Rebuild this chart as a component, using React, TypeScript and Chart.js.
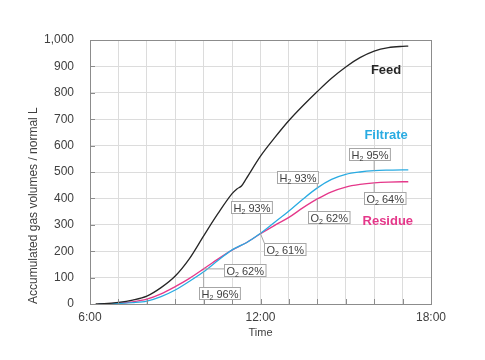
import React, { useEffect, useRef } from 'react';
import { Chart, registerables } from 'chart.js';

Chart.register(...registerables);

// ---- data (time in hours, volumes in normal L) ----
const feedTime = [6.2, 6.5, 7, 7.5, 8, 8.5, 9, 9.5, 10, 10.5, 11, 11.17, 11.33, 11.5, 12, 12.5, 13, 13.5, 14, 14.5, 15, 15.5, 16, 16.5, 17, 17.2];
const feedVol = [0, 1, 6, 15, 30, 62, 106, 172, 258, 342, 418, 436, 447, 475, 560, 630, 695, 752, 805, 855, 898, 933, 958, 971, 976, 977];

const filtrateTime = [6.3, 7, 7.5, 8, 8.5, 9, 9.5, 10, 10.5, 11, 11.25, 11.5, 12, 12.5, 13, 13.5, 14, 14.5, 15, 15.5, 16, 16.5, 17, 17.2];
const filtrateVol = [0, 2, 5, 11, 28, 53, 86, 122, 165, 205, 219, 232, 268, 310, 352, 398, 440, 472, 491, 500, 505, 507, 508, 508];

const residueTime = [6.3, 7, 7.5, 8, 8.5, 9, 9.5, 10, 10.5, 11, 11.5, 12, 12.5, 13, 13.5, 14, 14.5, 15, 15.5, 16, 16.5, 17, 17.2];
const residueVol = [0, 3, 8, 18, 38, 66, 97, 133, 170, 204, 232, 266, 298, 328, 365, 398, 425, 443, 453, 459, 462, 463, 463];

const xTickHours = [6, 12, 18];
const seriesNames = ['Feed', 'Filtrate', 'Residue'];

// callout annotations: series index, time, gas letter, percentage
const calloutSeries = [1, 2, 1, 2, 1, 2, 1, 2];
const calloutTime = [10, 10, 12, 12, 14, 14, 16, 16];
const calloutGas = ['H', 'O', 'H', 'O', 'H', 'O', 'H', 'O'];
const calloutPct = [96, 62, 93, 61, 93, 62, 95, 64];

// ---- styling / placement (pixels) ----
const colors = ['#262626', '#29abe2', '#e5388a'];
const calloutBoxOffset = [
  [-5, 15], [20, -5], [-30, -32], [3, 9], [-40, -17], [-9, 12], [-25, -23], [-10, 9],
];
const seriesLabelPos = [
  [16.42, 886], [16.42, 640], [16.48, 311],
];

const FONT = 'Arial, "Liberation Sans", Helvetica, sans-serif';

const overlayPlugin = {
  id: 'overlay',
  afterDatasetsDraw(chart: any) {
    const { ctx, chartArea, scales } = chart;
    const xs = scales.x;
    const ys = scales.y;
    ctx.save();
    // plot border
    ctx.strokeStyle = '#8c8c8c';
    ctx.lineWidth = 1;
    ctx.strokeRect(
      Math.round(chartArea.left) + 0.5,
      Math.round(chartArea.top) + 0.5,
      Math.round(chartArea.right - chartArea.left),
      Math.round(chartArea.bottom - chartArea.top)
    );
    // inner tick marks
    ctx.beginPath();
    for (let h = 7; h < 18; h++) {
      const px = Math.round(xs.getPixelForValue(h)) + 0.5;
      ctx.moveTo(px, chartArea.bottom);
      ctx.lineTo(px, chartArea.bottom - 5);
    }
    for (let v = 100; v < 1000; v += 100) {
      const py = Math.round(ys.getPixelForValue(v)) + 0.5;
      ctx.moveTo(chartArea.left, py);
      ctx.lineTo(chartArea.left + 5, py);
    }
    ctx.stroke();

    // series labels
    ctx.font = `bold 13px ${FONT}`;
    ctx.textAlign = 'center';
    ctx.textBaseline = 'middle';
    seriesNames.forEach((name, i) => {
      ctx.fillStyle = colors[i];
      ctx.fillText(name, xs.getPixelForValue(seriesLabelPos[i][0]), ys.getPixelForValue(seriesLabelPos[i][1]));
    });

    // callouts
    const mainFont = `11px ${FONT}`;
    const subFont = `7px ${FONT}`;
    calloutSeries.forEach((si, k) => {
      const meta = chart.getDatasetMeta(si);
      const times = si === 1 ? filtrateTime : residueTime;
      const idx = times.indexOf(calloutTime[k]);
      const el = meta.data[idx];
      const ax = el.x;
      const ay = el.y;
      ctx.font = mainFont;
      const wG = ctx.measureText(calloutGas[k]).width;
      const rest = ` ${calloutPct[k]}%`;
      const wR = ctx.measureText(rest).width;
      ctx.font = subFont;
      const wS = ctx.measureText('2').width;
      const w = wG + wS + wR + 4;
      const hgt = 12;
      const bx = Math.round(ax + calloutBoxOffset[k][0]) + 0.5;
      const by = Math.round(ay + calloutBoxOffset[k][1]) + 0.5;
      const ex = Math.min(Math.max(ax, bx), bx + w);
      const ey = Math.min(Math.max(ay, by), by + hgt);
      ctx.strokeStyle = '#a6a6a6';
      ctx.lineWidth = 1;
      ctx.beginPath();
      ctx.moveTo(ax, ay);
      ctx.lineTo(ex, ey);
      ctx.stroke();
      ctx.fillStyle = '#ffffff';
      ctx.fillRect(bx, by, w, hgt);
      ctx.strokeRect(bx, by, w, hgt);
      ctx.fillStyle = '#404040';
      ctx.textAlign = 'left';
      ctx.textBaseline = 'alphabetic';
      const base = by + 10;
      ctx.font = mainFont;
      ctx.fillText(calloutGas[k], bx + 2, base);
      ctx.font = subFont;
      ctx.fillText('2', bx + 2 + wG, base + 2);
      ctx.font = mainFont;
      ctx.fillText(rest, bx + 2 + wG + wS, base);
    });
    ctx.restore();
  },
};

function toPoints(t: number[], v: number[]) {
  return t.map((x, i) => ({ x, y: v[i] }));
}

export default function App() {
  const ref = useRef<HTMLCanvasElement | null>(null);
  useEffect(() => {
    document.body.style.margin = '0';
    if (!ref.current) return;
    const mk = (i: number, t: number[], v: number[]) => ({
      label: seriesNames[i],
      data: toPoints(t, v),
      borderColor: colors[i],
      backgroundColor: colors[i],
      borderWidth: 1.3,
      pointRadius: 0,
      cubicInterpolationMode: 'monotone' as const,
      fill: false,
    });
    const chart = new Chart(ref.current, {
      type: 'line',
      data: {
        datasets: [
          mk(0, feedTime, feedVol),
          mk(1, filtrateTime, filtrateVol),
          mk(2, residueTime, residueVol),
        ],
      },
      options: {
        responsive: false,
        animation: false,
        layout: { padding: { top: 40, right: 54, left: 0, bottom: 0 } },
        plugins: { legend: { display: false }, tooltip: { enabled: false } },
        scales: {
          x: {
            type: 'linear',
            min: 6,
            max: 18,
            afterFit: (s: any) => { s.height = 56; },
            grid: { color: '#dcdcdc', drawTicks: false, lineWidth: 1 },
            border: { display: false },
            ticks: {
              stepSize: 1,
              autoSkip: false,
              maxRotation: 0,
              padding: 6,
              color: '#404040',
              font: { family: FONT, size: 12 },
              callback: (v: any) => (xTickHours.includes(Number(v)) ? `${v}:00` : ''),
            },
            title: {
              display: true,
              text: 'Time',
              color: '#404040',
              font: { family: FONT, size: 11 },
              padding: { top: 20, bottom: 20 },
            },
          },
          y: {
            min: 0,
            max: 1000,
            afterFit: (s: any) => { s.width = 90; },
            grid: { color: '#dcdcdc', drawTicks: false, lineWidth: 1 },
            border: { display: false },
            ticks: {
              stepSize: 100,
              padding: 16,
              color: '#404040',
              font: { family: FONT, size: 12 },
              callback: (v: any) => Number(v).toLocaleString('en-US'),
            },
            title: {
              display: true,
              text: 'Accumulated gas volumes / normal L',
              align: 'start',
              color: '#404040',
              font: { family: FONT, size: 12 },
              padding: { top: 26, bottom: 0 },
            },
          },
        },
      },
      plugins: [overlayPlugin],
    });
    return () => chart.destroy();
  }, []);
  return (
    <div style={{ width: 485, height: 360, background: '#fff' }}>
      <canvas ref={ref} width={485} height={360} />
    </div>
  );
}
